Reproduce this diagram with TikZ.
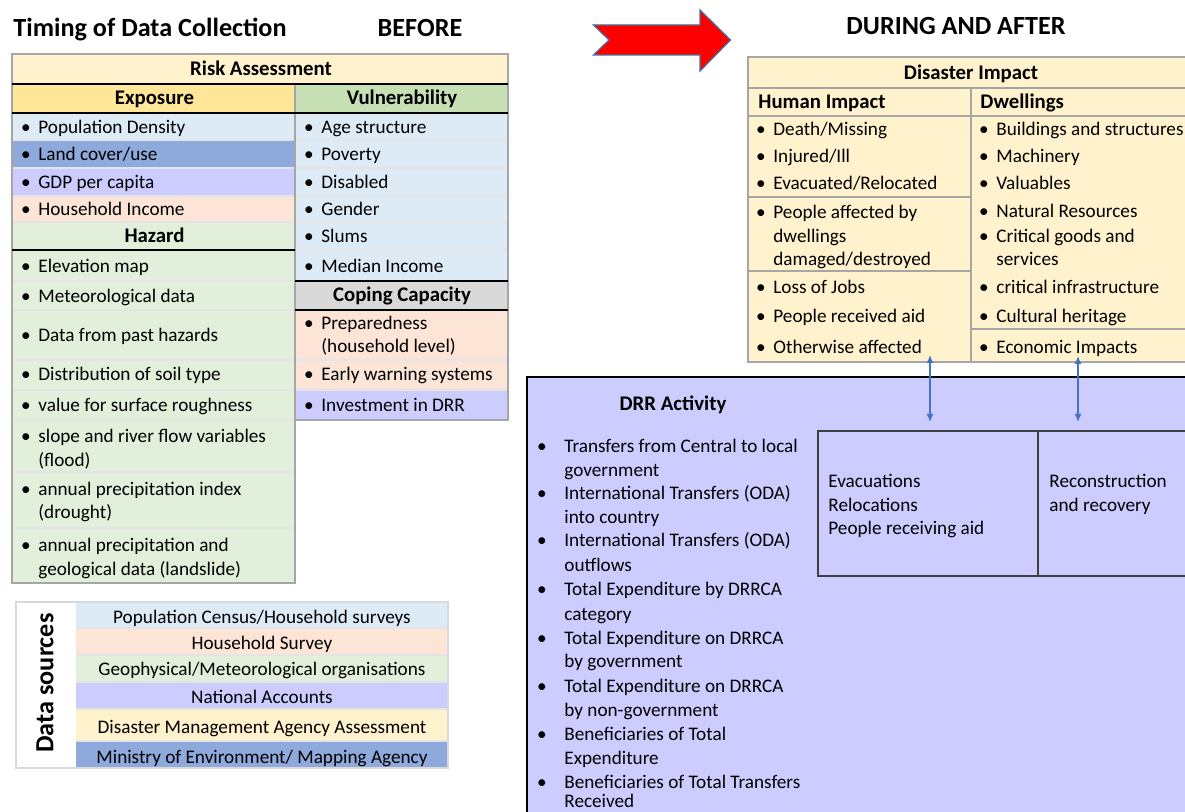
\documentclass[tikz,border=0pt]{standalone}
\usepackage{fontspec}
\setmainfont{Carlito}
\usetikzlibrary{arrows.meta}

\definecolor{lyellow}{HTML}{FFF2CC}
\definecolor{gold}{HTML}{FFE699}
\definecolor{hgreen}{HTML}{C6E0B4}
\definecolor{lblue}{HTML}{DDEBF7}
\definecolor{mblue}{HTML}{8EA9DB}
\definecolor{lav}{HTML}{CCCCFF}
\definecolor{peach}{HTML}{FCE4D6}
\definecolor{lgreen}{HTML}{E2EFDA}
\definecolor{hgray}{HTML}{D9D9D9}
\definecolor{framegray}{HTML}{A6A6A6}
\definecolor{sepgray}{HTML}{E4E4E4}
\definecolor{arrowblue}{HTML}{4472C4}
\definecolor{arrowedge}{HTML}{41719C}

\newcommand{\bodyfont}{\fontsize{9.6}{11.6}\selectfont}
\newcommand{\headfont}{\fontsize{10.4}{12.5}\selectfont\bfseries}
\newcommand{\titlefont}{\fontsize{13.1}{15.7}\selectfont\bfseries}
\newcommand{\bu}{\llap{\textbullet\hspace{3.8pt}}}
\newcommand{\du}{\llap{\textbullet\hspace{8.8pt}}}

\begin{document}
\begin{tikzpicture}[
    x=0.5pt, y=-0.5pt,
    txt/.style={anchor=base west, inner sep=0pt, font=\bodyfont},
    ctr/.style={anchor=base, inner sep=0pt, font=\bodyfont},
    hdr/.style={anchor=base, inner sep=0pt, font=\headfont},
    hdrl/.style={anchor=base west, inner sep=0pt, font=\headfont},
    ttl/.style={anchor=base, inner sep=0pt, font=\titlefont},
    rowsep/.style={draw=sepgray, line width=0.6pt},
    frameline/.style={draw=framegray, line width=0.7pt},
    darkline/.style={draw=black, line width=1pt},
    link/.style={{Latex[length=4pt,width=3.5pt]}-{Latex[length=4pt,width=3.5pt]}, draw=arrowblue, line width=0.7pt}
]
\clip (0,0) rectangle (1185,812);
\fill[white] (0,0) rectangle (1185,812);

% titles
\node[ttl, anchor=base west] (title) at (13,36.5) {Timing of Data Collection};
\node[ttl] (before) at (420,36.5) {BEFORE};
\node[ttl] (after) at (956,35) {DURING AND AFTER};
\draw[fill=red, draw=arrowedge, line width=0.6pt] (593.5,25) -- (700,25) -- (700,10) -- (730.5,40)
    -- (700,71) -- (700,55) -- (593.5,55) -- (609,40) -- cycle;

% risk assessment table
\fill[lyellow] (12,54) rectangle (508,84);
\fill[gold] (12,84) rectangle (295,113);
\fill[hgreen] (295,84) rectangle (508,113);
\foreach \ya/\yb/\col in {113/140/lblue,140/168/mblue,168/196/lav,196/222/peach,222/583/lgreen}
    \fill[\col] (12,\ya) rectangle (295,\yb);
\foreach \ya/\yb/\col in {113/281/lblue,281/310/hgray,310/390/peach,390/420/lav}
    \fill[\col] (295,\ya) rectangle (508,\yb);
\foreach \y in {140,168,196,222,281,310,360,390,420,472,528}
    \draw[rowsep] (12,\y) -- (295,\y);
\foreach \y in {140,168,196,222,250,360,390}
    \draw[rowsep] (295,\y) -- (508,\y);
\draw[frameline] (295,420) -- (508,420) -- (508,54) -- (12,54) -- (12,583) -- (295,583) -- (295,84);
\draw[darkline] (12,84) -- (508,84) (12,113) -- (508,113) (12,250) -- (295,250)
    (295,281) -- (508,281) (295,310) -- (508,310);

\node[hdr] (risk) at (261,76) {Risk Assessment};
\node[hdr] (expo) at (154.5,105) {Exposure};
\node[hdr] (vuln) at (402,105) {Vulnerability};
\node[hdr] (haz) at (154.5,243) {Hazard};
\node[hdr] (coping) at (402,302) {Coping Capacity};

\foreach \y/\t [count=\i] in {134/{\bu Population Density}, 161/{\bu Land cover/use},
    189/{\bu GDP per capita}, 216/{\bu Household Income}, 273/{\bu Elevation map},
    303/{\bu Meteorological data}, 342/{\bu Data from past hazards},
    381/{\bu Distribution of soil type}, 412/{\bu value for surface roughness},
    443/{\bu slope and river flow variables}, 467/{(flood)},
    496/{\bu annual precipitation index}, 519/{(drought)},
    552/{\bu annual precipitation and}, 576/{geological data (landslide)}}
    \node[txt] (lc\i) at (38,\y) {\t};

\foreach \y/\t [count=\i] in {134/{\bu Age structure}, 161/{\bu Poverty}, 189/{\bu Disabled},
    216/{\bu Gender}, 243/{\bu Slums}, 273/{\bu Median Income}, 330/{\bu Preparedness},
    353/{(household level)}, 381/{\bu Early warning systems}, 412/{\bu Investment in DRR}}
    \node[txt] (rc\i) at (321,\y) {\t};

% data sources legend
\foreach \ya/\yb/\col in {602/628/lblue,628/655/peach,655/682/lgreen,682/709/lav,709/741/lyellow,741/768/mblue}
    \fill[\col] (76,\ya) rectangle (448,\yb);
\foreach \y in {628,655,682,709,741}
    \draw[rowsep] (76,\y) -- (448,\y);
\draw[draw=hgray, line width=0.9pt] (16,602) rectangle (448,768);
\node[ttl, anchor=center, rotate=90] (dsrc) at (45,683) {Data sources};
\foreach \y/\t [count=\i] in {624/{Population Census/Household surveys}, 650/{Household Survey},
    676/{Geophysical/Meteorological organisations}, 704/{National Accounts},
    734/{Disaster Management Agency Assessment}, 764/{Ministry of Environment/ Mapping Agency}}
    \node[ctr] (src\i) at (262,\y) {\t};

% disaster impact table
\fill[lyellow] (748,57) rectangle (1190,362);
\draw[frameline] (1190,57) -- (748,57) -- (748,362) -- (1190,362);
\draw[frameline] (748,88) -- (1190,88) (748,116) -- (1190,116) (971,88) -- (971,362)
    (748,197) -- (971,197) (748,271) -- (971,271) (971,329) -- (1190,329);
\node[hdr] (impact) at (971,80) {Disaster Impact};
\node[hdrl] (human) at (758,109) {Human Impact};
\node[hdrl] (dwell) at (980,109) {Dwellings};

\foreach \y/\t [count=\i] in {136/{\bu Death/Missing}, 163/{\bu Injured/Ill},
    190/{\bu Evacuated/Relocated}, 219/{\bu People affected by}, 243/{dwellings},
    266/{damaged/destroyed}, 294/{\bu Loss of Jobs}, 323/{\bu People received aid},
    354/{\bu Otherwise affected}}
    \node[txt] (hi\i) at (773,\y) {\t};

\foreach \y/\t [count=\i] in {136/{\bu Buildings and structures}, 163/{\bu Machinery},
    190/{\bu Valuables}, 218/{\bu Natural Resources}, 243/{\bu Critical goods and},
    266/{services}, 294/{\bu critical infrastructure}, 323/{\bu Cultural heritage},
    354/{\bu Economic Impacts}}
    \node[txt] (dw\i) at (996,\y) {\t};

% DRR activity
\draw[fill=lav, draw=black, line width=0.8pt] (527,377) rectangle (1195,820);
\node[hdr] (drr) at (673,411) {DRR Activity};
\foreach \y/\t [count=\i] in {453/{\du Transfers from Central to local}, 477/{government},
    500/{\du International Transfers (ODA)}, 524/{into country},
    547/{\du International Transfers (ODA)}, 572/{outflows},
    596/{\du Total Expenditure by DRRCA}, 621/{category},
    645/{\du Total Expenditure on DRRCA}, 668/{by government},
    693/{\du Total Expenditure on DRRCA}, 717/{by non-government},
    741/{\du Beneficiaries of Total}, 765/{Expenditure},
    789/{\du Beneficiaries of Total Transfers}, 808/{Received}}
    \node[txt] (drr\i) at (564,\y) {\t};

\draw[draw=black!75, line width=0.9pt] (818,431) rectangle (1195,576) (1038,431) -- (1038,576);
\node[txt] (evac1) at (828,488) {Evacuations};
\node[txt] (evac2) at (828,512) {Relocations};
\node[txt] (evac3) at (828,535) {People receiving aid};
\node[txt] (recon1) at (1049,488) {Reconstruction};
\node[txt] (recon2) at (1049,512) {and recovery};

% links between impact and activity
\coordinate (up1) at (930,355);
\coordinate (dn1) at (930,422);
\coordinate (up2) at (1078,356);
\coordinate (dn2) at (1078,422);
\draw[link] (up1) -- (dn1);
\draw[link] (up2) -- (dn2);

\end{tikzpicture}
\end{document}
